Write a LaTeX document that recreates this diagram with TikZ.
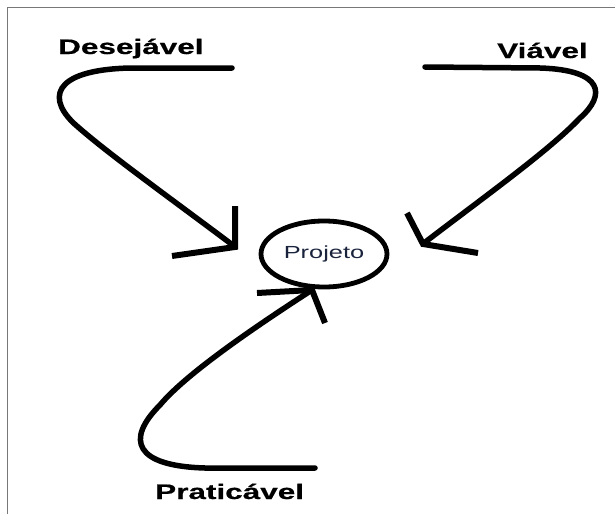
\documentclass[tikz,border=0pt]{standalone}
\usepackage{fontspec}
\setmainfont{Liberation Sans}
\newfontfamily\lblfont[FakeStretch=1.5,FakeBold=0.6]{Liberation Sans}
\newfontfamily\projfont[FakeStretch=1.45]{Liberation Sans}
\usetikzlibrary{shapes.geometric}
\definecolor{framegray}{RGB}{120,120,120}
\definecolor{projblue}{RGB}{25,35,60}
\tikzset{
  conn/.style={line width=5.5pt, line cap=round, line join=round},
  barb/.style={line width=6pt, line cap=butt, line join=miter},
  lbl/.style={inner sep=0pt, anchor=base west, font=\lblfont\bfseries\fontsize{21}{24}\selectfont},
  frameline/.style={framegray, line width=1.5pt}
}
\begin{document}
\begin{tikzpicture}[x=1pt,y=-1pt]
\useasboundingbox (0,0) rectangle (615,514);
\fill[white] (0,0) rectangle (615,514);
% frame
\draw[frameline] (7.5,514) -- (7.5,7.5) -- (615,7.5);
% labels
\node[lbl] (des) at (58,54) {Desejável};
\node[lbl] (via) at (497,58) {Viável};
\node[lbl] (pra) at (155,499) {Praticável};
% central node
\node[draw, ellipse, line width=4.8pt, minimum width=126pt, minimum height=66pt, inner sep=0pt,
      text=projblue, font=\projfont\fontsize{17.5}{20}\selectfont] (proj) at (324,254) {Projeto};
% coordinates
\coordinate (d0) at (232,68);
\coordinate (dt) at (234,246);
\coordinate (v0) at (425,67);
\coordinate (vt) at (424,243);
\coordinate (p0) at (315,468);
\coordinate (pt) at (312,290);
% Desejavel connector
\draw[conn] (d0) -- (130,68) .. controls (50,70) and (46,100) .. (78,127)
  .. controls (110,155) and (170,198) .. (dt);
\draw[barb] (235,206) -- (235,247) -- (172,256);
% Viavel connector
\draw[conn] (v0) -- (540,68) .. controls (604,70) and (606,95) .. (580,118)
  .. controls (550,150) and (480,200) .. (vt);
\draw[barb] (407,213) -- (423,244) -- (478,253);
% Praticavel connector
\draw[conn] (p0) -- (205,468) .. controls (135,466) and (125,440) .. (160,405)
  .. controls (185,375) and (250,330) .. (pt);
\draw[barb] (257,293) -- (312,290) -- (325,323);
\end{tikzpicture}
\end{document}
